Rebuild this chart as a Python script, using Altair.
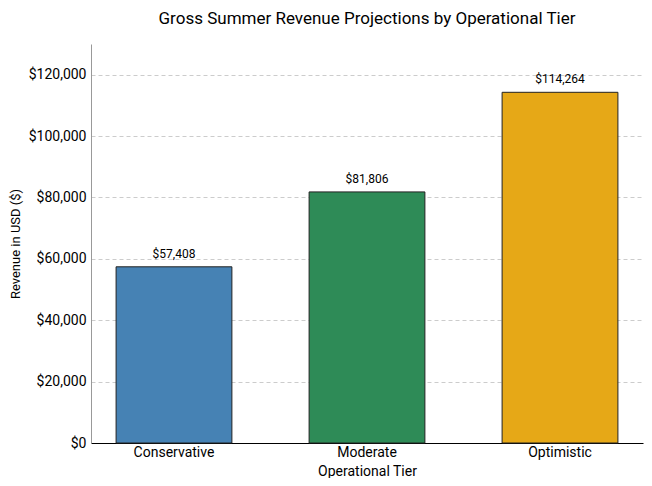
import altair as alt
import pandas as pd

tiers = ["Conservative", "Moderate", "Optimistic"]
revenue = [57408, 81806, 114264]
colors = ["#4682B4", "#2E8B57", "#E6A817"]

df = pd.DataFrame({"tier": tiers, "revenue": revenue})
df["label"] = df["revenue"].map(lambda v: f"${v:,.0f}")

FONT = "Roboto"

base = alt.Chart(df).encode(
    x=alt.X(
        "tier:N",
        sort=tiers,
        title="Operational Tier",
        scale=alt.Scale(paddingInner=0.4, paddingOuter=0.13),
        axis=alt.Axis(
            labelAngle=0, ticks=False, domainColor="#000000", labelFontSize=14,
            titleFontSize=14, titleFontWeight="normal", labelPadding=2,
            titlePadding=5, labelColor="#000000", titleColor="#000000",
        ),
    ),
    y=alt.Y(
        "revenue:Q",
        title="Revenue in USD ($)",
        scale=alt.Scale(domain=[0, 130000], nice=False),
        axis=alt.Axis(
            values=[0, 20000, 40000, 60000, 80000, 100000, 120000],
            format="$,.0f", ticks=False, domainColor="#999999",
            gridDash=[4, 3], gridColor="#cccccc", labelFontSize=14,
            titleFontSize=13, titleFontWeight="normal", labelPadding=5,
            titlePadding=6, labelColor="#000000", titleColor="#000000",
        ),
    ),
)

bars = base.mark_bar(stroke="#222222", strokeWidth=1).encode(
    color=alt.Color("tier:N", scale=alt.Scale(domain=tiers, range=colors), legend=None)
)

labels = base.mark_text(baseline="bottom", dy=-6, fontSize=12, color="#000000").encode(
    text="label:N"
)

chart = (
    (bars + labels)
    .properties(
        width=552,
        height=399,
        autosize=alt.AutoSizeParams(type="none"),
        padding={"left": 83, "top": 36, "right": 1, "bottom": 35},
        title=alt.TitleParams(
            "Gross Summer Revenue Projections by Operational Tier",
            fontSize=17, fontWeight="normal", color="#000000", offset=16,
        ),
    )
    .configure(font=FONT)
    .configure_view(stroke=None)
)

chart.save("out.html", embed_options={"renderer": "svg", "actions": False})
